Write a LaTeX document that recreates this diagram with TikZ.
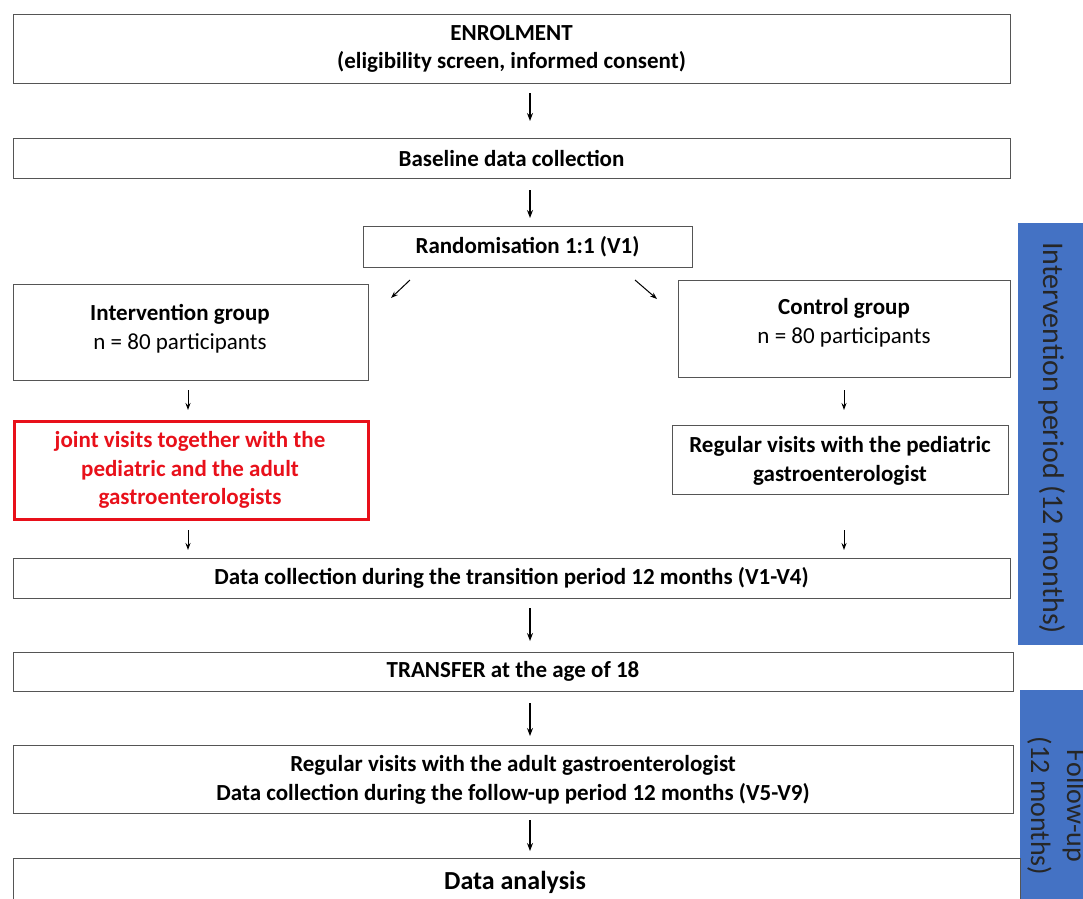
\documentclass[tikz,border=0pt]{standalone}
\usepackage{fontspec}
\setmainfont{Carlito}
\usetikzlibrary{arrows.meta}
\definecolor{barblue}{HTML}{4472C4}
\definecolor{boxline}{HTML}{555555}
\definecolor{redline}{HTML}{E8101A}
\begin{document}
\begin{tikzpicture}[x=1pt,y=-1pt,
  box/.style={draw=boxline,line width=0.9pt,inner sep=0pt},
  lbl/.style={font=\fontsize{23}{28.5}\selectfont\bfseries,align=center},
  arr/.style={-{Stealth[length=8pt,width=6pt]},line width=1.1pt,black},
  sarr/.style={-{Stealth[length=7pt,width=5pt]},line width=1pt,black}]
\useasboundingbox (0,0) rectangle (1083,898);
\begin{scope}
\clip (0,0) rectangle (1083,898);
% blue bars
\fill[barblue] (1018,223) rectangle (1090,645);
\node[rotate=-90,font=\fontsize{30}{36}\selectfont,text=black!85] (bar1) at (1052,438) {Intervention period (12 months)};
\fill[barblue] (1020,690) rectangle (1090,905);
\node[rotate=-90,font=\fontsize{28}{36}\selectfont,align=center,text=black!85] (bar2) at (1057,806) {Follow-up\\(12 months)};
% boxes
\draw[box] (13,14) rectangle (1010,83);
\node[lbl] (enrol) at (511.5,49) {ENROLMENT\\(eligibility screen, informed consent)};
\draw[box] (13,138) rectangle (1010,178);
\node[lbl] (base) at (511.5,158) {Baseline data collection};
\draw[box] (363,226) rectangle (692,267);
\node[lbl] (rand) at (527.5,246.5) {Randomisation 1:1 (V1)};
\draw[box] (13,284) rectangle (368,380);
\node[lbl] (int) at (180,329) {Intervention group\\\mdseries n = 80 participants};
\draw[box] (678,280) rectangle (1010,377);
\node[lbl] (ctrl) at (844,323) {Control group\\\mdseries n = 80 participants};
\draw[draw=redline,line width=3pt] (14,421) rectangle (368,519);
\node[lbl,text=redline] (joint) at (190,470) {joint visits together with the\\pediatric and the adult\\gastroenterologists};
\draw[box] (672,425) rectangle (1008,494);
\node[lbl] (regped) at (840,461) {Regular visits with the pediatric\\gastroenterologist};
\draw[box] (13,558) rectangle (1010,598);
\node[lbl] (trans) at (511.5,578) {Data collection during the transition period 12 months (V1-V4)};
\draw[box] (13,652) rectangle (1013,691);
\node[lbl] (transfer) at (513,671) {TRANSFER at the age of 18};
\draw[box] (13,745) rectangle (1013,813);
\node[lbl] (regad) at (513,780) {Regular visits with the adult gastroenterologist\\Data collection during the follow-up period 12 months (V5-V9)};
\draw[box] (13,858) rectangle (1020,910);
\node[font=\fontsize{26}{30}\selectfont\bfseries] (anal) at (515,882) {Data analysis};
% arrows
\coordinate (a1s) at (530,93); \coordinate (a1e) at (530,121);
\draw[arr] (a1s) -- (a1e);
\coordinate (a2s) at (530,190); \coordinate (a2e) at (530,218);
\draw[arr] (a2s) -- (a2e);
\coordinate (a3s) at (410,280); \coordinate (a3e) at (391,298);
\draw[sarr] (a3s) -- (a3e);
\coordinate (a4s) at (635,280); \coordinate (a4e) at (657,299);
\draw[sarr] (a4s) -- (a4e);
\coordinate (a5s) at (188,390); \coordinate (a5e) at (188,410);
\draw[sarr] (a5s) -- (a5e);
\coordinate (a6s) at (844,390); \coordinate (a6e) at (844,410);
\draw[sarr] (a6s) -- (a6e);
\coordinate (a7s) at (188,530); \coordinate (a7e) at (188,550);
\draw[sarr] (a7s) -- (a7e);
\coordinate (a8s) at (844,530); \coordinate (a8e) at (844,550);
\draw[sarr] (a8s) -- (a8e);
\coordinate (a9s) at (530,608); \coordinate (a9e) at (530,641);
\draw[arr] (a9s) -- (a9e);
\coordinate (a10s) at (530,703); \coordinate (a10e) at (530,736);
\draw[arr] (a10s) -- (a10e);
\coordinate (a11s) at (530,820); \coordinate (a11e) at (530,851);
\draw[arr] (a11s) -- (a11e);
\end{scope}
\end{tikzpicture}
\end{document}
